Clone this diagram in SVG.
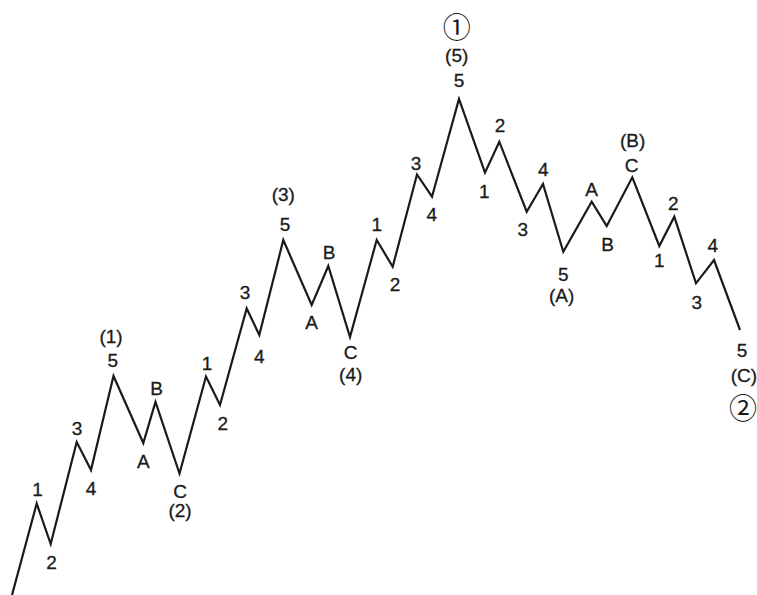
<svg xmlns="http://www.w3.org/2000/svg" width="757" height="595" viewBox="0 0 757 595">
<style>
  .w { fill: none; stroke: #1a1a1a; stroke-width: 2.2; stroke-linejoin: miter; stroke-miterlimit: 10; }
  text { font-family: "Liberation Sans", Arial, sans-serif; font-size: 19px; fill: #1a1a1a; stroke: #1a1a1a; stroke-width: 0.3; text-anchor: middle; }
  .c { font-family: "Noto Sans CJK JP", "DejaVu Sans", sans-serif; font-size: 28px; stroke-width: 0; }
</style>
<rect width="757" height="595" fill="#ffffff"/>
<g id="connectors">
  <polyline class="w" points="12,595 36.7,503.5 50.7,544 76.7,442 91,470 113.5,376 143.3,443 155.5,402 179.5,473.5 206,376.5 220,405 246.7,308.5 259.3,335 283.3,240 311.7,305 328.3,266 350,337 376.7,240 392.7,266.7 417,174.5 432,196.7 459,99 485,172.7 499.3,141.7 526.7,211.7 543,184 563.3,251.7 591.7,201.7 606.7,226 632.3,177.3 659.3,246 674.3,216.7 696,283.3 714,260 740,330"/>
</g>
<g id="p1"><text x="37.5" y="495.5">1</text></g>
<g id="p2"><text x="51.5" y="568.5">2</text></g>
<g id="p3"><text x="77" y="435">3</text></g>
<g id="p4"><text x="91" y="495">4</text></g>
<g id="p5"><text x="111" y="343">(1)</text><text x="112.7" y="366.5">5</text></g>
<g id="pA1"><text x="143.3" y="468">A</text></g>
<g id="pB1"><text x="156.5" y="395">B</text></g>
<g id="pC1"><text x="180" y="498">C</text><text x="180" y="517">(2)</text></g>
<g id="p6"><text x="207" y="370">1</text></g>
<g id="p7"><text x="222.7" y="430">2</text></g>
<g id="p8"><text x="245" y="299">3</text></g>
<g id="p9"><text x="259.3" y="363">4</text></g>
<g id="p10"><text x="283.3" y="201">(3)</text><text x="285" y="231">5</text></g>
<g id="pA2"><text x="311.7" y="329">A</text></g>
<g id="pB2"><text x="329" y="259">B</text></g>
<g id="pC2"><text x="350.7" y="359">C</text><text x="350.7" y="381">(4)</text></g>
<g id="p11"><text x="376.7" y="231">1</text></g>
<g id="p12"><text x="395" y="291">2</text></g>
<g id="p13"><text x="416" y="170">3</text></g>
<g id="p14"><text x="431.7" y="221">4</text></g>
<g id="p15"><text class="c" x="456.7" y="37.5">①</text><text x="456.7" y="62">(5)</text><text x="459" y="87">5</text></g>
<g id="q1"><text x="484.3" y="198">1</text></g>
<g id="q2"><text x="500" y="132">2</text></g>
<g id="q3"><text x="522.7" y="236">3</text></g>
<g id="q4"><text x="543.3" y="176">4</text></g>
<g id="q5"><text x="563.3" y="281">5</text><text x="561.7" y="302">(A)</text></g>
<g id="qA"><text x="591.7" y="195.5">A</text></g>
<g id="qB"><text x="607.7" y="250.5">B</text></g>
<g id="qC"><text x="632.7" y="147">(B)</text><text x="631.7" y="171.5">C</text></g>
<g id="r1"><text x="659.3" y="267">1</text></g>
<g id="r2"><text x="673.3" y="210">2</text></g>
<g id="r3"><text x="696.7" y="309">3</text></g>
<g id="r4"><text x="712.7" y="251.5">4</text></g>
<g id="r5"><text x="742" y="356.5">5</text><text x="744" y="382">(C)</text><text class="c" x="743" y="419">②</text></g>
</svg>
